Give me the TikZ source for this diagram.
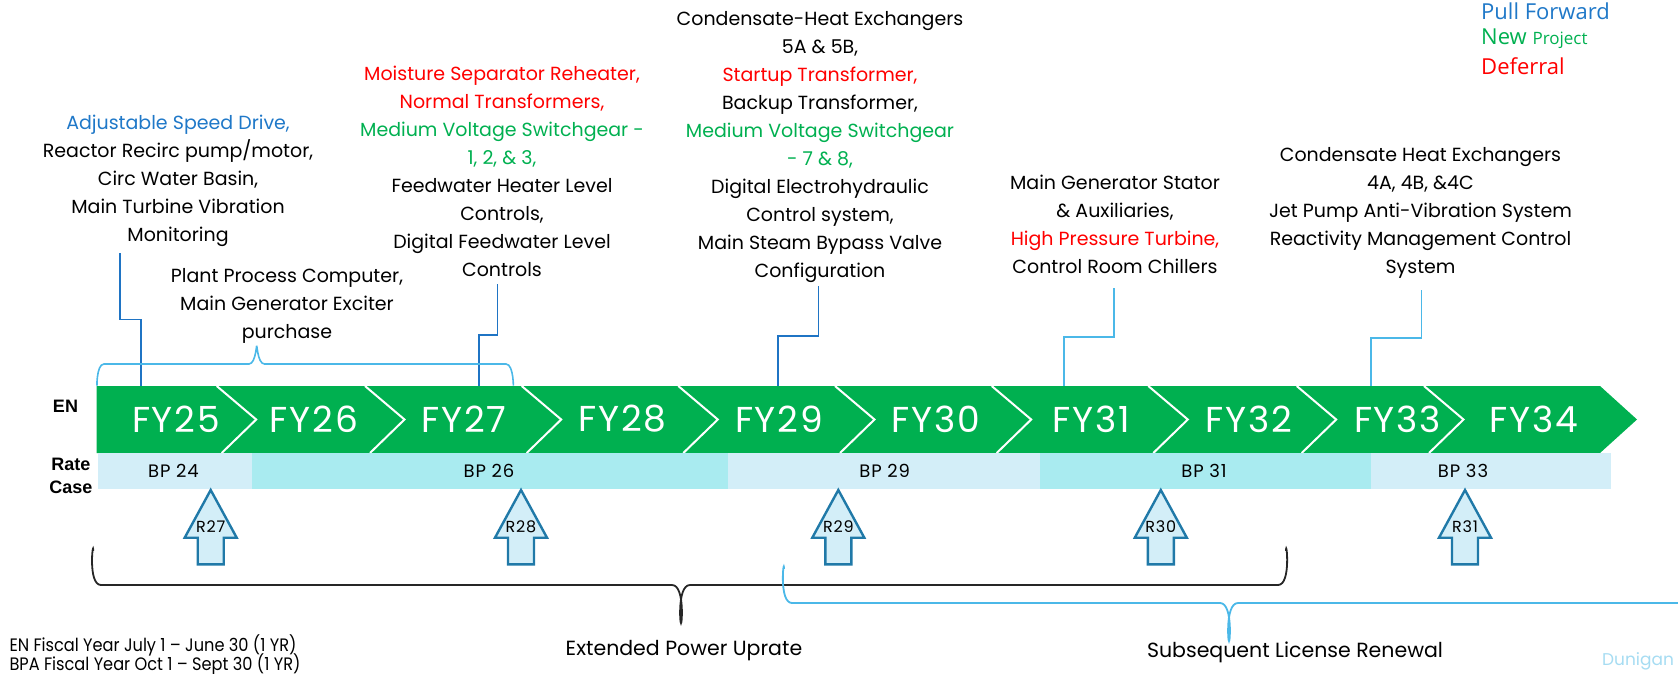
\documentclass[tikz,border=0pt]{standalone}
\usepackage{fontspec}
\setmainfont{Poppins}
\newfontfamily\narrowfont[FakeStretch=0.9]{Poppins}
\newfontfamily\spacedfont[LetterSpace=5]{Poppins}
\newfontfamily\labelfont{Liberation Sans}
\newfontfamily\legendfont{Open Sans}
\usetikzlibrary{calc}

\definecolor{bandgreen}{HTML}{00B050}
\definecolor{ratelight}{HTML}{D3EEF8}
\definecolor{ratecyan}{HTML}{A9EBF0}
\definecolor{arrowline}{HTML}{2079A8}
\definecolor{conndark}{HTML}{1F74C4}
\definecolor{connlight}{HTML}{4BB8E8}
\definecolor{tblue}{HTML}{1F78C8}
\definecolor{tgreen}{HTML}{00B050}
\definecolor{tred}{HTML}{FF0000}
\definecolor{bracegray}{HTML}{262626}
\definecolor{signblue}{HTML}{A6DCF2}

\begin{document}
\begin{tikzpicture}[x=1pt,y=-1pt,
  blk/.style={align=center, inner sep=0pt, font=\fontsize{19}{28}\selectfont},
  fy/.style={inner sep=0pt, text=white, font=\spacedfont\fontsize{36}{36}\selectfont},
  bp/.style={inner sep=0pt, font=\spacedfont\fontsize{18}{18}\selectfont},
  rlabel/.style={inner sep=0pt, font=\spacedfont\fontsize{16}{16}\selectfont},
  rowlabel/.style={inner sep=0pt, align=center, font=\labelfont\bfseries\fontsize{18}{23}\selectfont},
  uptext/.style={inner sep=0pt, font=\fontsize{20.5}{20.5}\selectfont},
  foot/.style={inner sep=0pt, anchor=west, font=\narrowfont\fontsize{18}{18}\selectfont},
  legend/.style={inner sep=0pt, anchor=west, font=\legendfont\fontsize{22}{22}\selectfont},
  conn/.style={line width=1.6pt},
  chev/.style={draw=white, line width=2pt},
  uparrow/.style={draw=arrowline, fill=ratelight, line width=2.4pt, line join=miter},
]
\useasboundingbox (0,0) rectangle (1678,674);

% ---- fiscal-year band ----
\fill[bandgreen] (96.7,386) -- (1600,386) -- (1637,419.5) -- (1600,453) -- (96.7,453) -- cycle;
\foreach \t in {216.7,365,521.7,678.3,835,991.7,1148.3,1296.7,1424}
  \draw[chev] (\t,386) -- (\t+39.5,419.5) -- (\t+5,453);

\foreach \x/\n in {176/25,314/26,464/27,622.5/28,779/29,936/30,1091/31,1249/32,1397.5/33,1534/34}
  \node[fy] (fy\n) at (\x,419) {FY\n};

% ---- rate case band ----
\fill[ratelight] (98.3,452.7) rectangle (251.7,489.3);
\fill[ratecyan]  (251.7,452.7) rectangle (727.7,489.3);
\fill[ratelight] (727.7,452.7) rectangle (1040,489.3);
\fill[ratecyan]  (1040,452.7) rectangle (1371,489.3);
\fill[ratelight] (1371,452.7) rectangle (1610.7,489.3);

\node[bp] (bp24) at (173.5,471) {BP 24};
\node[bp] (bp26) at (489,471) {BP 26};
\node[bp] (bp29) at (884.7,471) {BP 29};
\node[bp] (bp31) at (1204,471) {BP 31};
\node[bp] (bp33) at (1463,471) {BP 33};

\node[rowlabel] (en) at (65.5,406.5) {EN};
\node[rowlabel] (rate) at (71,476) {Rate\\Case};

% ---- rate case arrows ----
\foreach \x/\n in {210.7/27,521/28,838.3/29,1160.8/30,1465/31}{
  \draw[uparrow] (\x,490) -- (\x+26,537.7) -- (\x+13,537.7) -- (\x+13,564.3)
     -- (\x-13,564.3) -- (\x-13,537.7) -- (\x-26,537.7) -- cycle;
  \node[rlabel] (r\n) at (\x,527) {R\n};
}

% ---- project descriptions ----
\node[blk] (asd) at (178,181) {\textcolor{tblue}{Adjustable Speed Drive,}\\Reactor Recirc pump/motor,\\Circ Water Basin,\\Main Turbine Vibration\\Monitoring};

\node[blk] (msr) at (502,171.7) {\textcolor{tred}{Moisture Separator Reheater,}\\\textcolor{tred}{Normal Transformers,}\\\textcolor{tgreen}{Medium Voltage Switchgear -}\\\textcolor{tgreen}{1, 2, \& 3,}\\Feedwater Heater Level\\Controls,\\Digital Feedwater Level\\Controls};

\node[blk] (chx) at (820,146.7) {Condensate-Heat Exchangers\\5A \& 5B,\\\textcolor{tred}{Startup Transformer,}\\Backup Transformer,\\\textcolor{tgreen}{Medium Voltage Switchgear}\\\textcolor{tgreen}{- 7 \& 8,}\\Digital Electrohydraulic\\Control system,\\Main Steam Bypass Valve\\Configuration};

\node[blk] (mgs) at (1115,224.5) {Main Generator Stator\\\& Auxiliaries,\\\textcolor{tred}{High Pressure Turbine,}\\Control Room Chillers};

\node[blk] (chx4) at (1420.5,213.3) {Condensate Heat Exchangers\\4A, 4B, \&4C\\Jet Pump Anti-Vibration System\\Reactivity Management Control\\System};

\node[blk] (ppc) at (287,305.5) {Plant Process Computer,\\Main Generator Exciter\\purchase};

% ---- connectors from descriptions to the band ----
\coordinate (asd-s) at (120,253);   \coordinate (asd-e) at (141,386);
\coordinate (msr-s) at (497.5,284); \coordinate (msr-e) at (479,386);
\coordinate (chx-s) at (818.6,286); \coordinate (chx-e) at (777.7,386);
\coordinate (mgs-s) at (1113.7,288);\coordinate (mgs-e) at (1064,386);
\coordinate (chx4-s) at (1421.5,290);\coordinate (chx4-e) at (1371,386);

\foreach \k/\c in {asd/conndark,msr/conndark,chx/conndark,mgs/connlight,chx4/connlight}
  \draw[conn,draw=\c] (\k-s) |- ($(\k-s)!.5!(\k-e)$) -| (\k-e);

% brace over FY25-FY27
\draw[conn,draw=connlight] (97,384) to[out=-90,in=180] (104,364) -- (249,364)
  to[out=0,in=90] (256.7,347) to[out=90,in=180] (264.4,364) -- (506,364)
  to[out=0,in=-90] (513.3,384);

% ---- program braces ----
\draw[line width=1.8pt,draw=bracegray] (93.3,551) to[out=90,in=180] (101,585) -- (672,585)
  to[out=0,in=-90] (681,620) to[out=-90,in=180] (690,585) -- (1278,585)
  to[out=0,in=90] (1286,551);
\draw[line width=1.8pt,draw=connlight] (784,569) to[out=90,in=180] (792,603) -- (1220,603)
  to[out=0,in=-90] (1229,638) to[out=-90,in=180] (1238,603) -- (1678,603);

\node[uptext] (epu) at (684,651) {Extended Power Uprate};
\node[uptext] (slr) at (1295,652) {Subsequent License Renewal};

% ---- notes ----
\node[foot] (fy-en) at (9.3,645) {EN Fiscal Year July 1 – June 30 (1 YR)};
\node[foot] (fy-bpa) at (9.3,664.5) {BPA Fiscal Year Oct 1 – Sept 30 (1 YR)};
\node[inner sep=0pt, text=signblue, font=\fontsize{17}{17}\selectfont] (sign) at (1638,661) {Dunigan};

% ---- legend ----
\node[legend, text=tblue] (lg-pull) at (1481,11) {Pull Forward};
\node[legend, text=tgreen] (lg-new) at (1481,38.5) {New {\fontsize{17}{17}\selectfont Project}};
\node[legend, text=tred] (lg-def) at (1481,66.4) {Deferral};
\end{tikzpicture}
\end{document}
